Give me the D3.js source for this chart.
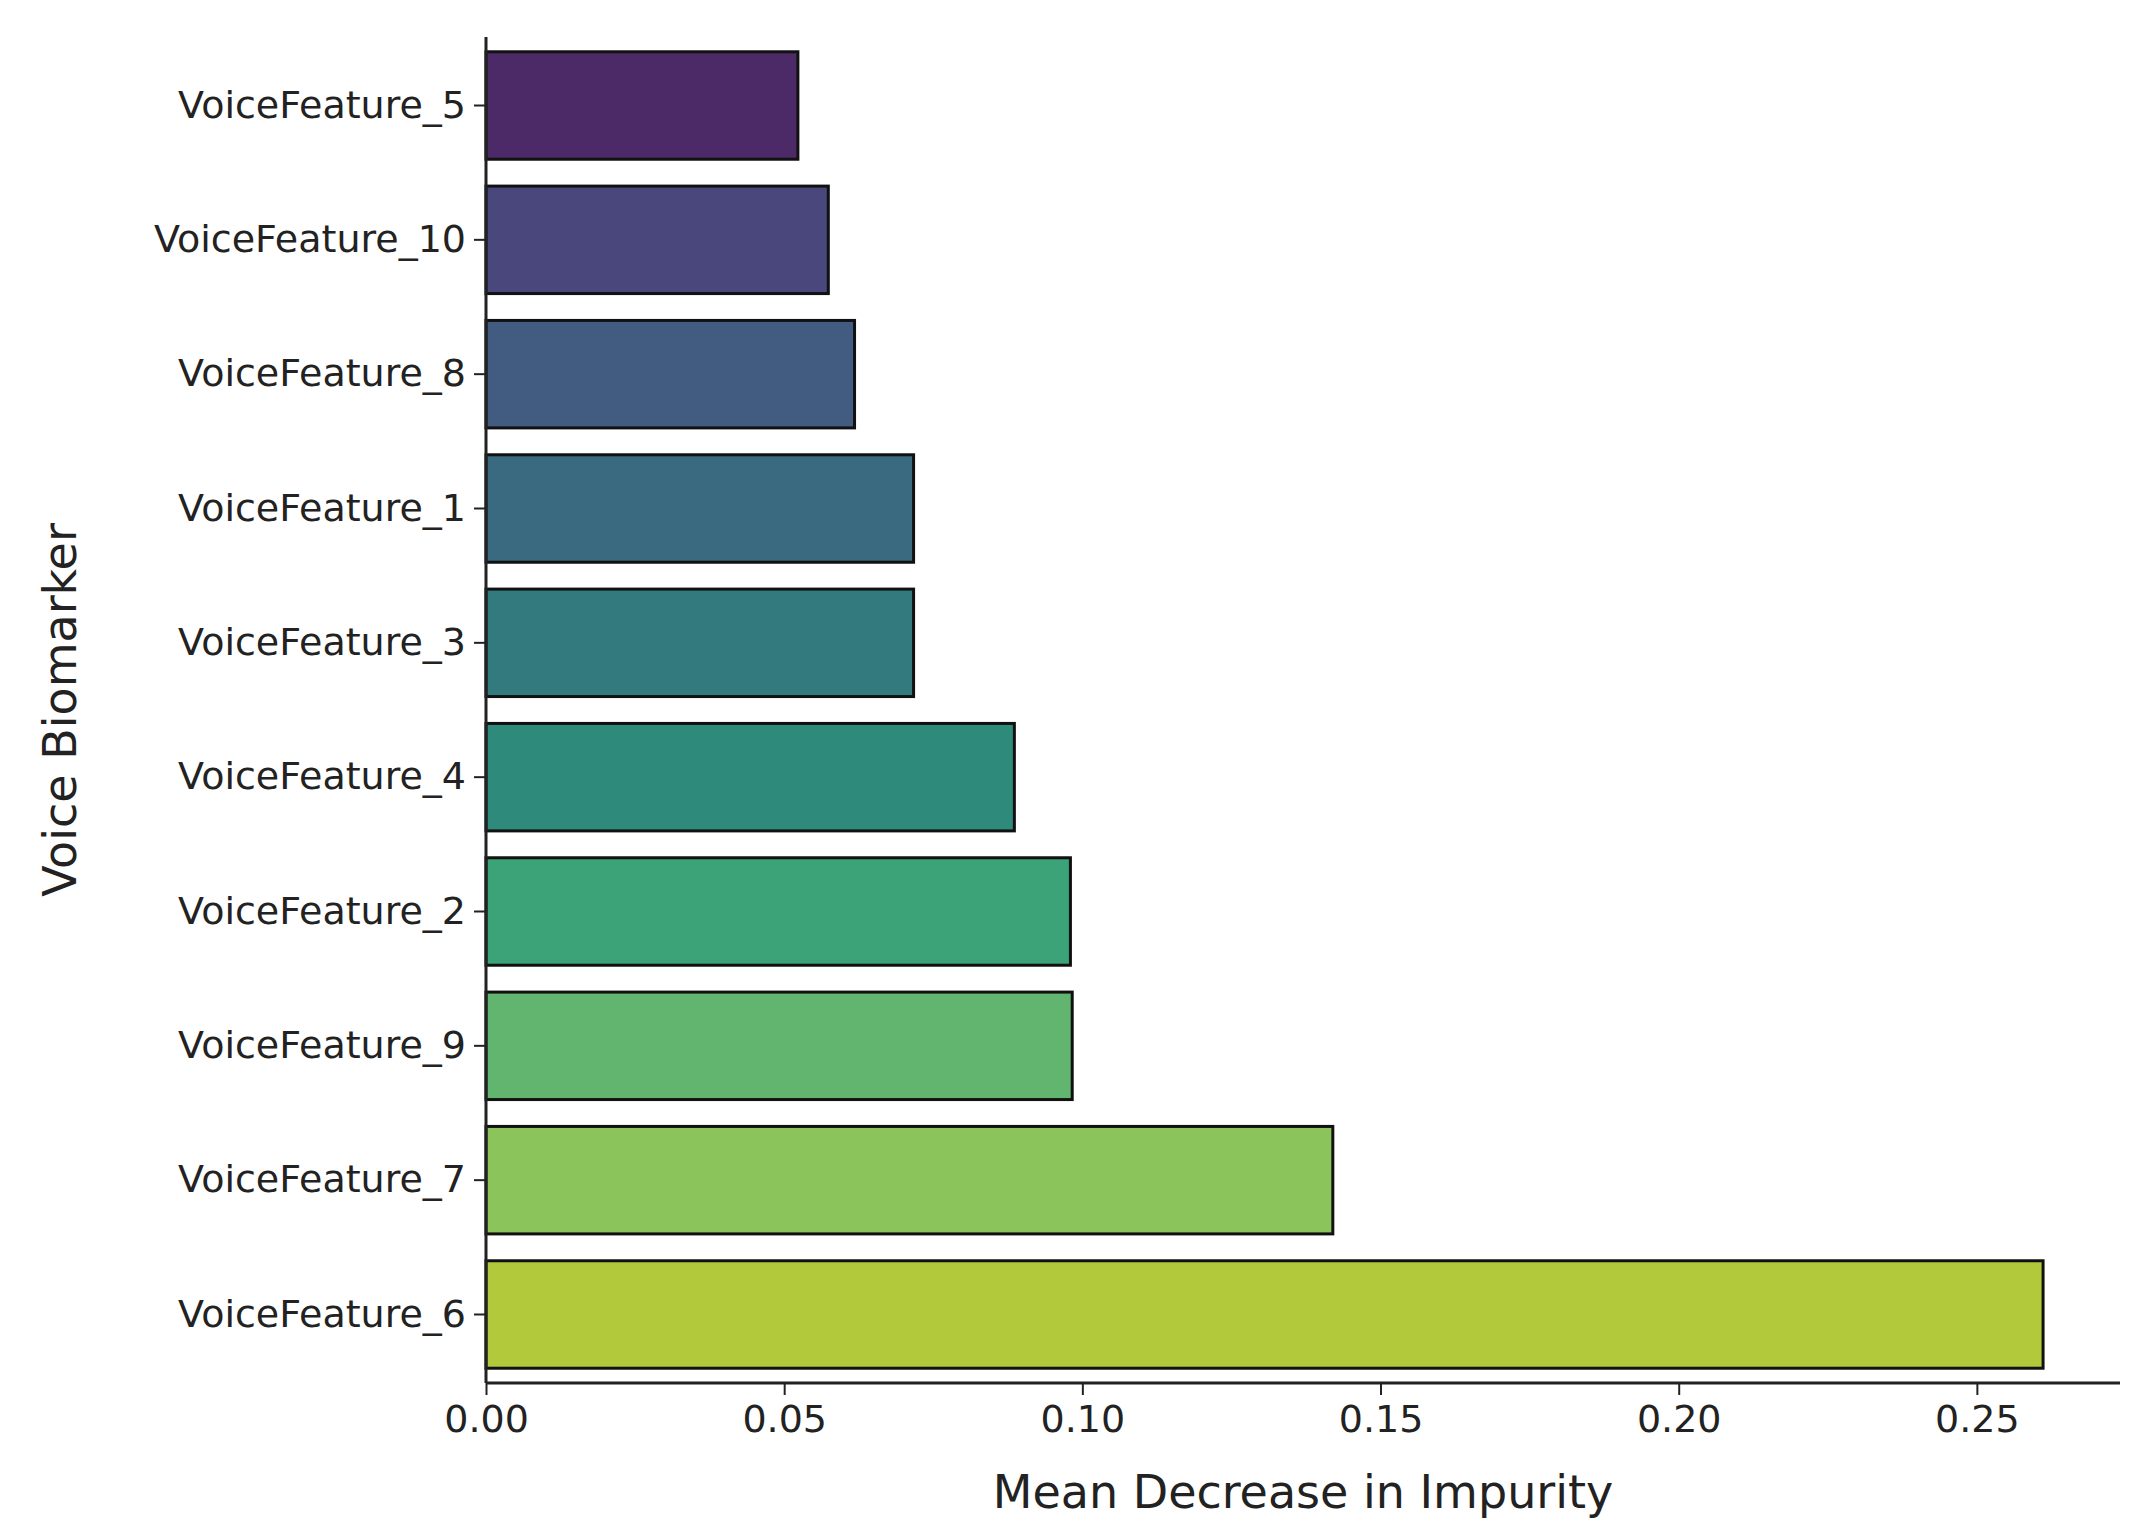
<!DOCTYPE html>
<html><head><meta charset="utf-8">
<script src="https://cdn.jsdelivr.net/npm/d3@7"></script>
<style>body{margin:0;background:#fff}text{font-family:"DejaVu Sans",sans-serif;fill:#222}</style>
</head><body><div id="chart"></div>
<script>
// data (top to bottom)
var features = ["VoiceFeature_5","VoiceFeature_10","VoiceFeature_8","VoiceFeature_1","VoiceFeature_3",
                "VoiceFeature_4","VoiceFeature_2","VoiceFeature_9","VoiceFeature_7","VoiceFeature_6"];
var importance = [0.0523,0.0574,0.0618,0.0717,0.0717,0.0886,0.0980,0.0983,0.1420,0.2611];
var colors = ["#4b2a67","#4a477c","#425b80","#3a6a80","#337a7f","#2e8b7c","#3ca278","#62b56e","#8bc45b","#b1c93a"];
var xTicks = [0,0.05,0.10,0.15,0.20,0.25];

var svgWidth = 2153, svgHeight = 1535;
var margin = {top: 37, left: 486, right: 33, bottom: 152};
var width = svgWidth - margin.left - margin.right;
var height = svgHeight - margin.top - margin.bottom;

var svg = d3.select("#chart").append("svg")
    .attr("width", svgWidth).attr("height", svgHeight);
var chartGroup = svg.append("g").attr("transform", `translate(${margin.left},${margin.top})`);

var x = d3.scaleLinear().domain([0, 0.274]).range([0, width]);
var y = d3.scaleBand().domain(features).range([0, height]).paddingInner(0.2).paddingOuter(0.11);

chartGroup.selectAll("rect").data(features).enter().append("rect")
    .attr("x", 0)
    .attr("y", d => y(d))
    .attr("width", (d, i) => x(importance[i]))
    .attr("height", y.bandwidth())
    .attr("fill", (d, i) => colors[i])
    .attr("stroke", "#111").attr("stroke-width", 3);

var xAxis = chartGroup.append("g").attr("transform", `translate(0,${height})`)
    .call(d3.axisBottom(x).tickValues(xTicks).tickFormat(d3.format(".2f")).tickSize(12).tickPadding(10));
var yAxis = chartGroup.append("g")
    .call(d3.axisLeft(y).tickSize(12).tickPadding(8));

[xAxis, yAxis].forEach(function(a) {
    a.select(".domain").attr("stroke", "#222").attr("stroke-width", 3);
    a.selectAll(".tick line").attr("stroke", "#222").attr("stroke-width", 2);
    a.selectAll(".tick text").style("font-size", "38px").style("fill", "#222");
});
xAxis.select(".domain").attr("d", `M0,0H${width}`);
yAxis.select(".domain").attr("d", `M0,0V${height}`);

chartGroup.append("text")
    .attr("x", width / 2).attr("y", height + 125)
    .attr("text-anchor", "middle").style("font-size", "46px")
    .text("Mean Decrease in Impurity");

chartGroup.append("text")
    .attr("transform", "rotate(-90)")
    .attr("x", -height / 2).attr("y", -margin.left + 76)
    .attr("text-anchor", "middle").style("font-size", "46px")
    .text("Voice Biomarker");
</script></body></html>
